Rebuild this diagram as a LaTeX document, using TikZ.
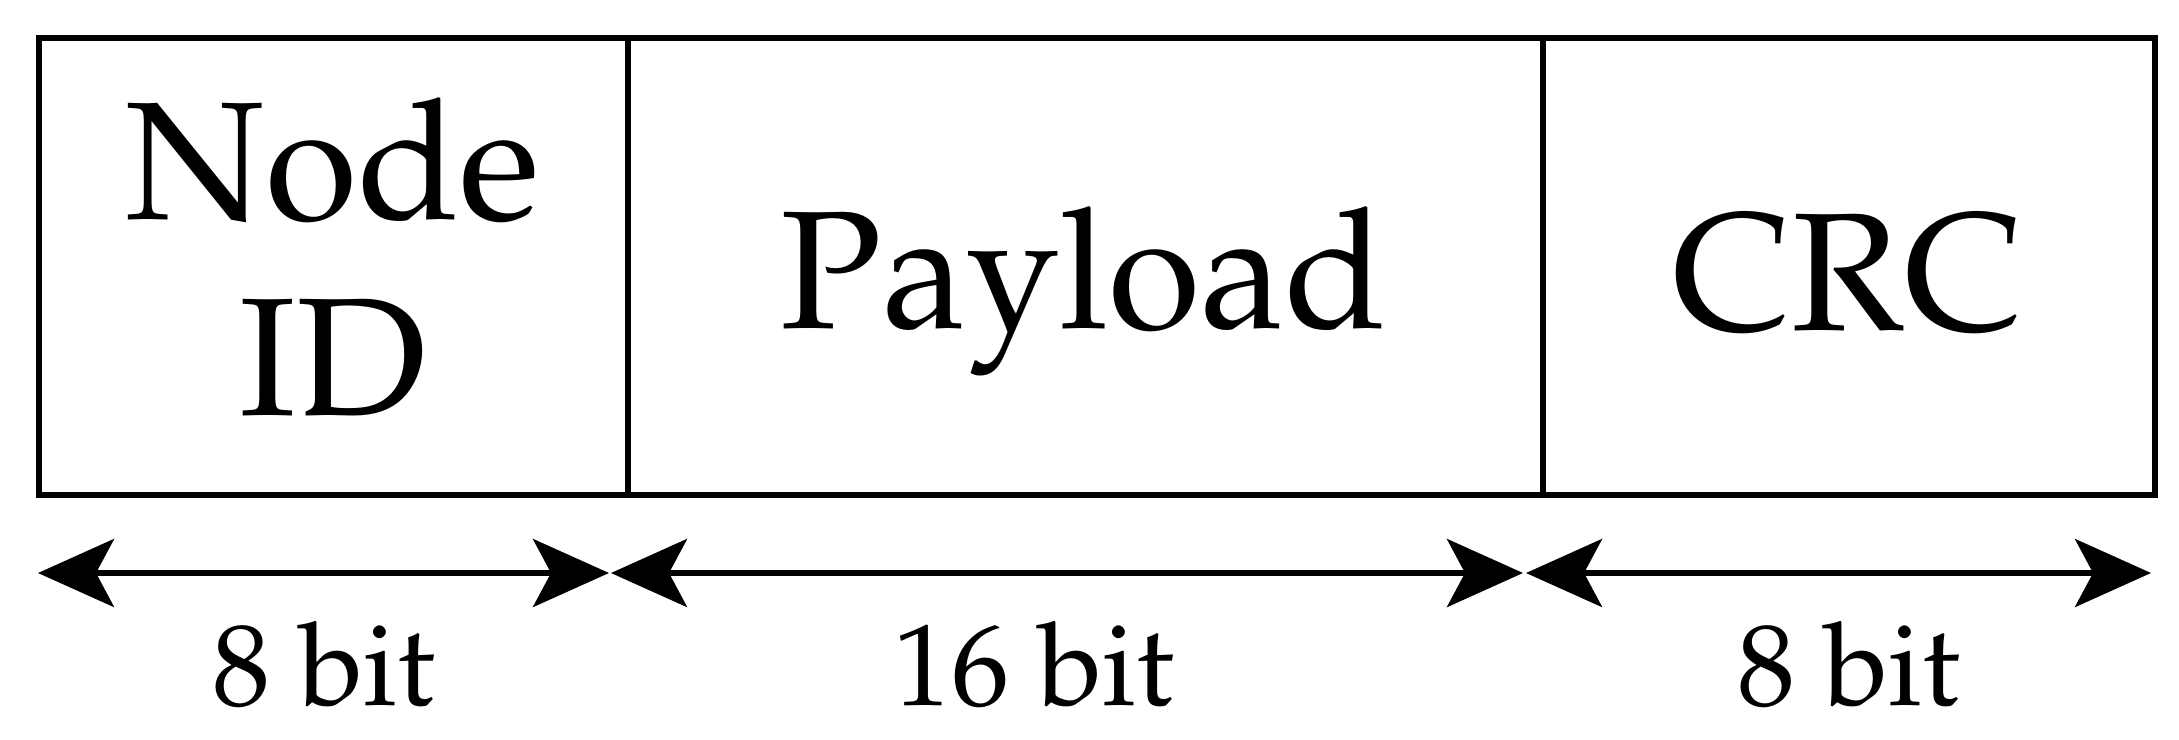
\documentclass[tikz,border=0pt]{standalone}
\usepackage[T1]{fontenc}
\usepackage{mathpazo}
\usetikzlibrary{arrows.meta}
\begin{document}
\begin{tikzpicture}[x=0.25pt,y=-0.25pt,
  field/.style={draw=black,line width=1.65pt},
  big/.style={font=\fontsize{42}{49}\selectfont,align=center,inner sep=0pt},
  small/.style={font=\fontsize{29}{34}\selectfont,anchor=base,inner sep=0pt},
  tip/.style={Stealth[length=19pt,width=17pt,inset=4.5pt]},
  dim/.style={line width=1.4pt,{Stealth[length=19pt,width=17pt,inset=4.5pt]}-{Stealth[length=19pt,width=17pt,inset=4.5pt]}}]
\useasboundingbox (0,0) rectangle (2179,739);
\draw[field] (39,38) rectangle (2155,495);
\coordinate (t1) at (628,38); \coordinate (b1) at (628,495);
\coordinate (t2) at (1543,38); \coordinate (b2) at (1543,495);
\draw[field] (t1) -- (b1);
\draw[field] (t2) -- (b2);
\node[big] (nid) at (333,257) {Node\\ID};
\node[big,anchor=base] (pay) at (1084,328) {Payload};
\node[big,anchor=base] (crc) at (1848,330) {CRC};
\coordinate (a0) at (38,573);
\coordinate (a1) at (609,573);
\coordinate (a1b) at (611,573);
\coordinate (a2) at (1523,573);
\coordinate (a2b) at (1526,573);
\coordinate (a3) at (2151,573);
\draw[dim] (a0) -- (a1);
\draw[dim] (a1b) -- (a2);
\draw[dim] (a2b) -- (a3);
\node[small] (l1) at (324,705) {8 bit};
\node[small] (l2) at (1034,705) {16 bit};
\node[small] (l3) at (1849,705) {8 bit};
\end{tikzpicture}
\end{document}
